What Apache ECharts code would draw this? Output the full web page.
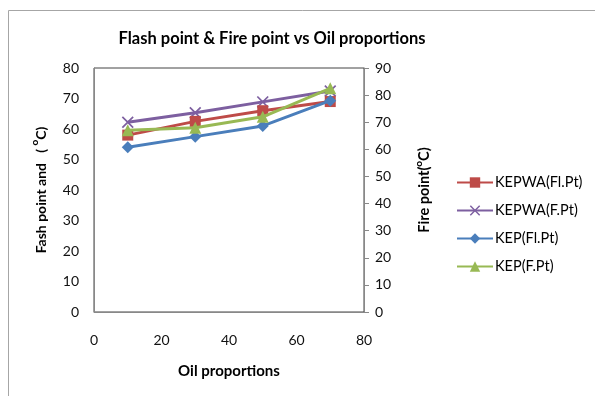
<!DOCTYPE html>
<html>
<head>
<meta charset="utf-8">
<script src="https://cdn.jsdelivr.net/npm/echarts@6/dist/echarts.min.js"></script>
<style>
html,body{margin:0;padding:0;background:#fff;}
#chart{width:595px;height:396px;}
</style>
</head>
<body>
<div id="chart"></div>
<script>
var oilProportions = [10, 30, 50, 70];
var kepwaFlashPoint = [58, 62.5, 66, 69];
var kepwaFirePoint = [70, 73.5, 77.5, 81.5];
var kepFlashPoint = [54, 57.5, 61, 69.3];
var kepFirePoint = [67, 68, 72, 82.5];
var seriesNames = ['KEPWA(Fl.Pt)', 'KEPWA(F.Pt)', 'KEP(Fl.Pt)', 'KEP(F.Pt)'];

function pairs(xs, ys) { return xs.map(function (x, i) { return [x, ys[i]]; }); }

var FONT = 'Lato';
var LBL = 14;
var crossPath = 'path://M1,0 L5,4 L9,0 L10,1 L6,5 L10,9 L9,10 L5,6 L1,10 L0,9 L4,5 L0,1 Z';

function richName(size) {
  return {
    fontFamily: FONT, fontSize: size, fontWeight: 'bold', color: '#000',
    rich: {
      a: { fontFamily: FONT, fontSize: size, fontWeight: 'bold', color: '#000', verticalAlign: 'bottom', lineHeight: 18 },
      s: { fontFamily: FONT, fontSize: 10, fontWeight: 'bold', color: '#000', verticalAlign: 'top', lineHeight: 18 }
    }
  };
}

var chart = echarts.init(document.getElementById('chart'));
chart.setOption({
  animation: false,
  backgroundColor: '#fff',
  textStyle: { fontFamily: FONT },
  title: {
    text: 'Flash point & Fire point vs Oil proportions',
    left: 267, top: 25, textAlign: 'center',
    textStyle: { fontFamily: FONT, fontSize: 16.5, fontWeight: 'bold', color: '#000' }
  },
  graphic: [{
    type: 'rect', silent: true, z: -1,
    shape: { x: 8.5, y: 10.5, width: 620, height: 420 },
    style: { fill: 'none', stroke: '#a6a6a6', lineWidth: 1 }
  }],
  legend: {
    orient: 'vertical', left: 451, top: 170,
    itemWidth: 36, itemHeight: 13, itemGap: 13,
    textStyle: { fontFamily: FONT, fontSize: 14.5, color: '#000', padding: [0,0,0,-3] },
    data: seriesNames
  },
  grid: { left: 94, right: 231, top: 68, bottom: 84, show: true, borderColor: '#444', borderWidth: 1 },
  xAxis: {
    type: 'value', min: 0, max: 80, interval: 20,
    name: 'Oil proportions', nameLocation: 'middle', nameGap: 52,
    nameTextStyle: { fontFamily: FONT, fontSize: 15, fontWeight: 'bold', color: '#000' },
    axisLine: { show: true, lineStyle: { color: '#888' } },
    axisTick: { show: false },
    splitLine: { show: false },
    axisLabel: { margin: 21, fontFamily: FONT, fontSize: LBL, color: '#111' }
  },
  yAxis: [{
    type: 'value', min: 0, max: 80, interval: 10, position: 'left',
    name: '{a|Fash point and   ( }{s|o}{a|C)}', nameLocation: 'middle', nameGap: 46, nameRotate: 90,
    nameTextStyle: richName(14),
    axisLine: { show: true, lineStyle: { color: '#888' } },
    axisTick: { show: false },
    splitLine: { show: false },
    axisLabel: { margin: 15, fontFamily: FONT, fontSize: LBL, color: '#111' }
  }, {
    type: 'value', min: 0, max: 90, interval: 10, position: 'right',
    name: '{a|Fire point(}{s|o}{a|C)}', nameLocation: 'middle', nameGap: 50, nameRotate: 90,
    nameTextStyle: richName(14.5),
    axisLine: { show: true, lineStyle: { color: '#888' } },
    axisTick: { show: true, length: 5, lineStyle: { color: '#888' } },
    splitLine: { show: false },
    axisLabel: { margin: 11, fontFamily: FONT, fontSize: LBL, color: '#111' }
  }],
  series: [{
    name: seriesNames[0], type: 'line', yAxisIndex: 0,
    data: pairs(oilProportions, kepwaFlashPoint),
    symbol: 'rect', symbolSize: 11,
    color: '#BE4B48', lineStyle: { width: 3, color: '#BE4B48' },
    itemStyle: { color: '#BE4B48' }, z: 2
  }, {
    name: seriesNames[1], type: 'line', yAxisIndex: 1,
    data: pairs(oilProportions, kepwaFirePoint),
    symbol: crossPath, symbolSize: 12,
    color: '#7D5FA0', lineStyle: { width: 3, color: '#7D5FA0' },
    itemStyle: { color: '#7D5FA0' }, z: 1
  }, {
    name: seriesNames[2], type: 'line', yAxisIndex: 0,
    data: pairs(oilProportions, kepFlashPoint),
    symbol: 'diamond', symbolSize: 12,
    color: '#4A7EBB', lineStyle: { width: 3, color: '#4A7EBB' },
    itemStyle: { color: '#4A7EBB' }, z: 3
  }, {
    name: seriesNames[3], type: 'line', yAxisIndex: 1,
    data: pairs(oilProportions, kepFirePoint),
    symbol: 'triangle', symbolSize: 12,
    color: '#98B954', lineStyle: { width: 3, color: '#98B954' },
    itemStyle: { color: '#98B954' }, z: 4
  }]
});
</script>
</body>
</html>
